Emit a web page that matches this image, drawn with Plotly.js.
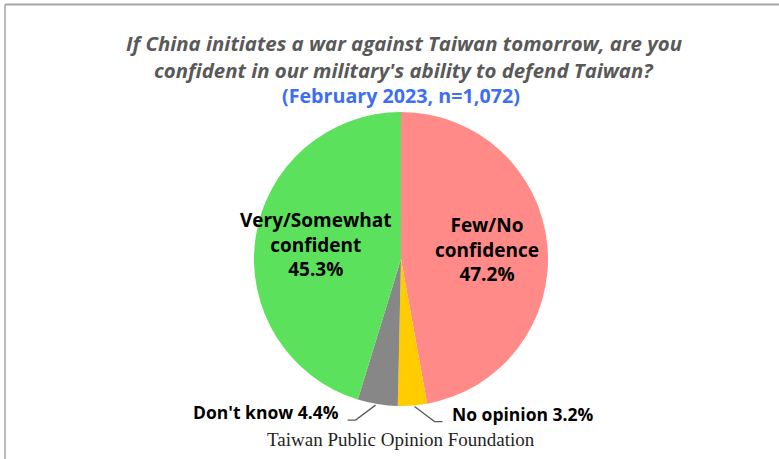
<!DOCTYPE html>
<html><head><meta charset="utf-8">
<script src="https://cdn.plot.ly/plotly-3.0.1.min.js"></script>
<style>html,body{margin:0;padding:0;background:#fff;}#chart{width:779px;height:459px;}</style>
</head><body><div id="chart"></div>
<script>
// Data
const categories = ["Few/No confidence", "No opinion", "Don't know", "Very/Somewhat confident"];
const labelTexts = ["Few/No<br>confidence", "No opinion", "Don't know", "Very/Somewhat<br>confident"];
const values = [47.2, 3.2, 4.4, 45.3];
const colors = ["#FF8A87", "#FFCC00", "#878787", "#5CE15C"];
const titleLines = ["If China initiates a war against Taiwan tomorrow, are you", "confident in our military's ability to defend Taiwan?"];
const subtitle = "(February 2023, n=1,072)";
const source = "Taiwan Public Opinion Foundation";

const W = 779, H = 459;
const cx = 401, cy = 259, R = 147;

const pie = {
  type: 'pie', values: values, labels: categories, sort: false, direction: 'clockwise', rotation: 0,
  marker: {colors: colors, line: {width: 0}}, textinfo: 'none', hoverinfo: 'label+percent',
  domain: {x: [(cx - R) / W, (cx + R) / W], y: [(H - cy - R) / H, (H - cy + R) / H]}
};

function ann(px, py, text, font, extra) {
  return Object.assign({x: px / W, y: 1 - py / H, xref: 'paper', yref: 'paper', text: text, showarrow: false,
    xanchor: 'center', yanchor: 'middle', font: font}, extra || {});
}

// label positions computed from data
const total = values.reduce((a, b) => a + b, 0);
let cum = 0;
const annotations = [];
const shapes = [];
values.forEach((v, i) => {
  const mid = (cum + v / 2) / total * 2 * Math.PI;
  cum += v;
  const txt = labelTexts[i] + (labelTexts[i].includes('<br>') ? '<br>' : ' ') + v.toFixed(1) + '%';
  if (v > 10) {
    const px = cx + 0.59 * R * Math.sin(mid), py = cy - 0.59 * R * Math.cos(mid);
    annotations.push(ann(px, py - 2, txt, {family: 'Open Sans', size: 19, color: '#000', weight: 'bold'}, {align: 'center'}));
  } else {
    const ex = cx + R * Math.sin(mid), ey = cy - R * Math.cos(mid);
    const side = Math.sin(mid) >= 0 ? 1 : -1;
    const kx = ex + side * 22, ky = ey + 16;
    annotations.push(ann(kx + side * 15, ky - 8, txt, {family: 'Open Sans', size: 17.5, color: '#000', weight: 'bold'},
      {xanchor: side > 0 ? 'left' : 'right'}));
    shapes.push({type: 'path', xref: 'paper', yref: 'paper',
      path: `M ${(ex + side * 2) / W} ${1 - (ey + 1) / H} L ${kx / W} ${1 - ky / H} L ${(kx + side * 8) / W} ${1 - ky / H}`,
      line: {color: '#595959', width: 1.3}});
  }
});
shapes.push({type: 'line', xref: 'paper', yref: 'paper', x0: 5 / W, x1: 1, y0: 1 - 4.5 / H, y1: 1 - 4.5 / H, line: {color: '#A6A6A6', width: 2}});
shapes.push({type: 'line', xref: 'paper', yref: 'paper', x0: 5 / W, x1: 5 / W, y0: 1 - 4.5 / H, y1: 0, line: {color: '#A6A6A6', width: 1.5}});

const titleFont = {family: 'Open Sans', size: 20.4, color: '#595959', weight: 'bold'};
annotations.push(ann(404, 43, '<i>' + titleLines[0] + '</i>', titleFont));
annotations.push(ann(404, 70, '<i>' + titleLines[1] + '</i>', titleFont));
annotations.push(ann(401, 95, subtitle, {family: 'Open Sans', size: 19.7, color: '#3E6EF2', weight: 'bold'}));
annotations.push(ann(401, 439, source, {family: 'Liberation Serif', size: 19, color: '#1F1F1F'}));

Plotly.newPlot('chart', [pie], {
  width: W, height: H, margin: {l: 0, r: 0, t: 0, b: 0}, showlegend: false,
  paper_bgcolor: '#fff', annotations: annotations, shapes: shapes
}, {displayModeBar: false, staticPlot: true});
</script></body></html>
